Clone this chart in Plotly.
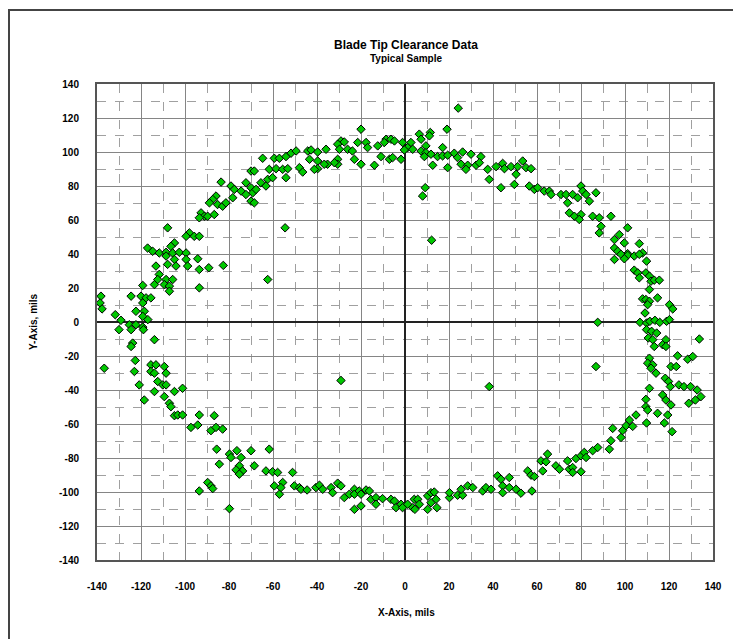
import plotly.graph_objects as go

# Upper-left arc
x_upper_left = [-64.7,-59.4,-57.1,-54.1,-51.8,-49.5,-48.0,-61.7,-58.6,-55.6,-53.3,-70.0,-68.5,-54.1,-62.4,-60.2,-65.5,-63.2,
                -83.6,-79.1,-77.6,-74.5,-72.3,-70.0,-69.2,-67.7,-72.3,-70.0,-68.5,-85.9,-87.4,-88.9,-85.2,-82.9,-81.4,-78.3,
                -92.7,-91.2,-93.5,-89.7,-86.7,-107.9,-98.0,-99.5,-95.8,-93.5,-104.8,-106.4,-117.0,-114.7,-111.7,-108.6,-105.6,
                -102.6,-99.5,-54.5]
y_upper_left = [96.3,96.3,96.3,97.3,99.3,100.6,90.8,89.8,90.2,89.8,90.2,88.8,88.8,84.9,83.9,84.9,81.9,80.0,
                82.3,80.0,78.0,77.0,81.9,79.0,76.0,78.0,75.0,71.1,70.1,74.1,72.1,70.1,69.1,68.1,70.1,73.1,
                64.2,62.2,61.3,62.2,63.2,55.4,52.4,50.4,50.4,50.4,46.5,44.5,43.5,41.6,40.6,41.0,40.6,
                41.0,40.6,55.4]

# Top arc
x_top = [24.2,-20.0,19.1,6.5,11.5,7.3,11.1,-8.6,-6.4,-4.8,-9.4,-29.1,-27.6,-30.6,-21.5,-17.7,-1.1,2.7,-17.0,-12.4,
         -26.1,-23.9,-29.8,-35.9,-44.2,-42.7,-39.7,1.2,-0.3,3.5,9.5,17.1,7.3,9.5,11.8,14.8,17.1,19.4,22.4,26.2,
         23.9,30.0,34.5,25.5,28.5,32.3,33.8,27.7,19.4,12.6,8.8,-10.9,-7.1,-5.6,-1.8,-13.9,-20.0,-23.0,-30.6,-30.6,
         -32.1,-35.2,-36.7,-39.7,-39.7,-41.2,-43.4,-46.5,37.6,41.4,44.4,45.2,38.3,43.6,9.2,8.0,12.1]
y_top = [125.8,113.4,113.4,110.5,111.5,107.5,109.5,107.5,107.5,106.5,105.6,106.5,105.9,104.6,105.6,105.6,105.6,105.6,102.6,103.6,
         101.6,100.6,101.6,101.6,100.6,101.2,100.0,102.6,101.2,101.6,103.6,102.6,100.6,99.6,98.7,97.3,97.7,98.1,99.3,100.0,
         96.7,98.7,97.3,92.8,92.2,92.2,93.7,89.8,90.8,92.2,97.3,97.3,95.7,96.7,95.7,92.2,92.8,95.7,95.7,92.8,
         93.7,92.8,92.8,94.7,90.2,89.8,95.7,88.2,89.8,91.4,93.3,90.2,83.9,79.0,79.0,74.1,48.1]

# Upper-right arc
x_upper_right = [48.2,51.2,53.5,55.0,57.3,50.5,49.7,56.5,58.8,60.3,63.3,65.6,66.4,70.9,73.2,76.2,80.0,80.8,82.3,86.8,
                 78.5,83.8,73.9,74.7,77.0,80.0,79.2,85.3,88.3,93.6,89.1,88.3,101.2,97.4,95.2,99.7,106.5,95.2,96.7,101.2,108.0]
y_upper_right = [91.4,91.4,94.7,90.8,90.2,86.9,80.9,80.0,78.0,79.0,77.0,77.0,75.0,75.0,75.0,75.0,80.0,77.0,75.0,76.0,
                 73.1,71.1,70.1,64.2,62.2,63.2,60.3,62.2,61.3,62.2,56.3,52.4,55.4,51.4,48.5,46.5,46.1,43.5,41.6,40.2,40.6]

# Left side
x_left = [-108.6,-104.8,-99.5,-94.2,-113.2,-107.9,-104.1,-98.8,-93.5,-89.2,-82.6,-62.4,-111.7,-112.4,-108.6,-105.6,
          -113.9,-109.4,-107.1,-119.2,-93.5,-107.1,-138.2,-138.6,-137.7,-124.5,-120.0,-117.7,-115.5,-119.2,-122.3,-118.5,
          -119.2,-116.9,-131.7,-129.1,-125.3,-122.3,-119.2,-130.0,-124.5,-118.9,-113.9,-123.8,-124.5,-122.6,-136.7,-115.5,
          -113.2,-109.4,-115.5,-113.9,-123.0,-108.6,-112.4,-110.1,-108.6,-120.8,-101.1,-104.8,-113.9,-109.4,-118.5,-107.1,
          -106.4,-104.8,-103.3,-101.1,-93.5,-86.7,-29.1]
y_left = [38.8,36.8,36.8,37.2,32.9,33.9,32.9,32.9,30.9,31.9,33.3,25.0,28.0,25.0,25.0,25.0,
          22.0,22.0,21.1,21.5,20.1,18.1,15.2,11.2,7.7,15.2,15.2,14.2,14.2,11.2,6.3,6.3,
          3.3,1.4,4.3,1.0,-1.6,-1.6,-3.0,-4.5,-4.5,-4.5,-10.4,-12.4,-14.4,-22.6,-27.2,-25.2,
          -25.2,-26.2,-29.1,-30.1,-29.1,-30.1,-35.0,-37.0,-37.0,-37.0,-39.0,-40.9,-40.9,-43.9,-45.9,-47.8,
          -49.8,-55.1,-54.7,-54.7,-54.7,-55.1,-34.4]

# Right side
x_right = [98.2,101.2,104.2,106.5,95.2,99.7,109.8,104.2,105.8,109.5,111.1,106.5,111.8,113.3,115.6,111.1,108.0,109.5,
           111.1,114.8,110.3,120.2,121.7,109.1,106.8,109.8,111.3,113.6,115.8,118.9,120.2,87.6,109.8,112.1,114.4,110.6,
           112.6,118.6,117.1,118.6,113.3,133.8,123.9,128.5,130.8,111.1,110.3,112.6,114.1,111.8,86.8,120.9,123.3,118.3,
           119.8,120.6,124.5,126.8,129.8,132.8,111.1,117.1,109.5,118.6,120.9,134.5,132.0,129.0,109.5,110.3,114.8,119.4,
           105.0,102.0,38.3]
y_right = [39.8,39.2,38.8,39.8,36.8,37.2,35.8,30.5,28.9,28.9,27.0,26.0,24.0,24.6,24.6,19.1,13.6,13.2,
           12.2,14.2,10.2,10.2,7.7,5.3,-0.2,-0.6,0.4,1.0,-0.2,0.4,1.4,-0.2,-4.5,-5.5,-6.5,-9.4,
           -10.4,-10.4,-13.4,-14.4,-14.4,-10.0,-19.9,-21.9,-20.3,-21.3,-24.2,-25.2,-30.1,-27.2,-26.2,-26.2,-26.2,-33.1,
           -35.0,-38.0,-37.0,-38.0,-38.0,-40.0,-39.0,-42.9,-45.5,-45.9,-48.8,-43.9,-45.9,-47.8,-49.8,-51.8,-53.7,-54.7,
           -54.7,-57.7,-38.0]

# Lower-left arc
x_lower_left = [-97.3,-94.2,-88.2,-85.9,-82.9,-85.6,-79.8,-76.4,-70.0,-61.7,-79.1,-74.5,-84.4,-75.3,-68.5,-76.8,-73.8,
                -75.3,-63.2,-60.2,-57.9,-51.1,-89.7,-88.2,-87.4,-93.5,-59.4,-55.6,-56.4,-57.1,-50.3,-48.0,-79.8]
y_lower_left = [-62.0,-60.6,-63.9,-62.0,-63.0,-74.8,-77.7,-75.7,-75.7,-74.8,-79.7,-79.7,-83.6,-84.6,-84.6,-87.0,-87.6,
                -89.5,-87.6,-88.1,-88.5,-88.5,-94.4,-96.4,-98.0,-99.4,-96.4,-94.4,-97.4,-101.3,-96.4,-97.4,-109.8]

# Bottom arc
x_bottom = [-47.3,-44.5,-40.5,-38.9,-37.4,-33.6,-32.9,-30.6,-29.1,-27.6,-25.3,-23.0,-23.0,-20.8,-20.0,-17.7,-16.2,
            -23.0,-20.0,-15.5,-13.2,-13.2,-10.2,-6.4,-4.8,-4.1,-1.8,-1.1,1.2,3.5,4.2,5.8,6.5,4.5,10.3,11.8,13.3,
            14.1,11.8,10.3,14.5,20.2,20.2,23.9,26.2,25.5,28.5,30.8,35.3,36.8,39.1,42.1,43.6,44.4,44.4]
y_bottom = [-98.4,-98.8,-97.4,-96.0,-98.4,-97.4,-100.4,-94.8,-96.4,-103.3,-101.3,-98.4,-101.3,-99.4,-101.3,-98.8,-99.4,
            -110.2,-108.2,-104.3,-103.3,-107.2,-103.9,-104.3,-105.3,-109.2,-107.2,-109.2,-107.2,-109.2,-104.3,-104.3,-107.2,-110.2,-102.3,-100.4,-100.0,
            -104.3,-106.3,-110.2,-109.2,-103.3,-100.4,-101.9,-101.9,-98.4,-96.4,-97.4,-99.4,-97.4,-98.4,-90.5,-92.5,-96.4,-100.4]

# Lower-right arc
x_lower_right = [47.4,47.4,50.5,52.7,57.7,55.8,57.3,58.8,62.6,61.8,64.8,64.1,68.6,70.2,73.9,74.7,76.2,76.2,80.0,
                 77.7,80.0,81.5,82.3,85.3,87.6,92.9,93.6,94.4,98.2,98.9,100.5,103.5,109.8,117.9,121.4]
y_lower_right = [-91.5,-97.4,-98.4,-100.7,-99.4,-87.6,-90.1,-90.9,-87.6,-81.7,-77.7,-82.2,-84.6,-86.6,-81.7,-86.6,-85.6,-88.5,-88.1,
                 -80.3,-78.7,-76.7,-79.7,-75.7,-73.8,-74.8,-69.8,-62.6,-67.9,-63.9,-61.0,-61.4,-59.4,-59.4,-64.5]

x_ticks = list(range(-140, 141, 20))
y_ticks = list(range(-140, 141, 20))

xs = x_upper_left + x_top + x_upper_right + x_left + x_right + x_lower_left + x_bottom + x_lower_right
ys = y_upper_left + y_top + y_upper_right + y_left + y_right + y_lower_left + y_bottom + y_lower_right

FONT = "Liberation Sans Narrow, Arial Narrow, Liberation Sans, Arial, sans-serif"

# The page body has an 8px margin, so the figure is drawn 8px smaller and placed
# so that the plot area lands at page x 97..713, y 84..560.
W, H = 733, 631
ML, MR, MT, MB = 89, 28, 76, 79
PW = W - ML - MR   # 616
PH = H - MT - MB   # 476

def px(xp):   # figure-pixel x -> paper
    return (xp - ML) / PW

def py(yp):   # figure-pixel y -> paper
    return (H - MB - yp) / PH

fig = go.Figure(go.Scatter(
    x=xs, y=ys, mode="markers",
    marker=dict(symbol="diamond", size=6.5, color="#00c800", line=dict(color="black", width=1)),
    hoverinfo="x+y",
))

axis_common = dict(
    range=[-140, 140],
    showgrid=True, gridcolor="#858585", gridwidth=1,
    zeroline=True, zerolinecolor="#222222", zerolinewidth=2,
    showline=True, linecolor="#555555", linewidth=2, mirror=True,
    ticks="",
    tickfont=dict(family=FONT, size=10, color="black", weight="bold"),
    minor=dict(dtick=10, showgrid=True, gridcolor="#a0a0a0", griddash="dash", gridwidth=1),
)

ann_font_small = dict(family=FONT, size=10, color="black", weight="bold")

fig.update_layout(
    width=W, height=H,
    margin=dict(l=ML, r=MR, t=MT, b=MB),
    paper_bgcolor="white", plot_bgcolor="white",
    showlegend=False,
    xaxis=dict(axis_common, tickmode="array", tickvals=x_ticks, ticktext=[str(v) for v in x_ticks], ticklabelstandoff=16),
    yaxis=dict(axis_common, tickmode="array", tickvals=y_ticks, ticktext=[str(v) for v in y_ticks], ticklabelstandoff=14),
    annotations=[
        dict(text="Blade Tip Clearance Data", xref="paper", yref="paper", x=px(398), y=py(37),
             xanchor="center", yanchor="middle",
             showarrow=False, font=dict(family=FONT, size=12, color="black", weight="bold")),
        dict(text="Typical Sample", xref="paper", yref="paper", x=px(398), y=py(51),
             xanchor="center", yanchor="middle", showarrow=False, font=ann_font_small),
        dict(text="X-Axis, mils", xref="paper", yref="paper", x=px(398), y=py(604),
             xanchor="center", yanchor="middle", showarrow=False, font=ann_font_small),
        dict(text="Y-Axis, mils", xref="paper", yref="paper", x=px(25), y=py(314), textangle=-90,
             xanchor="center", yanchor="middle", showarrow=False, font=ann_font_small),
    ],
    shapes=[
        dict(type="rect", xref="paper", yref="paper",
             x0=px(1), x1=px(726), y0=py(H + 10), y1=py(2),
             line=dict(color="#444444", width=2), fillcolor="rgba(0,0,0,0)", layer="below"),
    ],
)

fig.write_html("out.html")
